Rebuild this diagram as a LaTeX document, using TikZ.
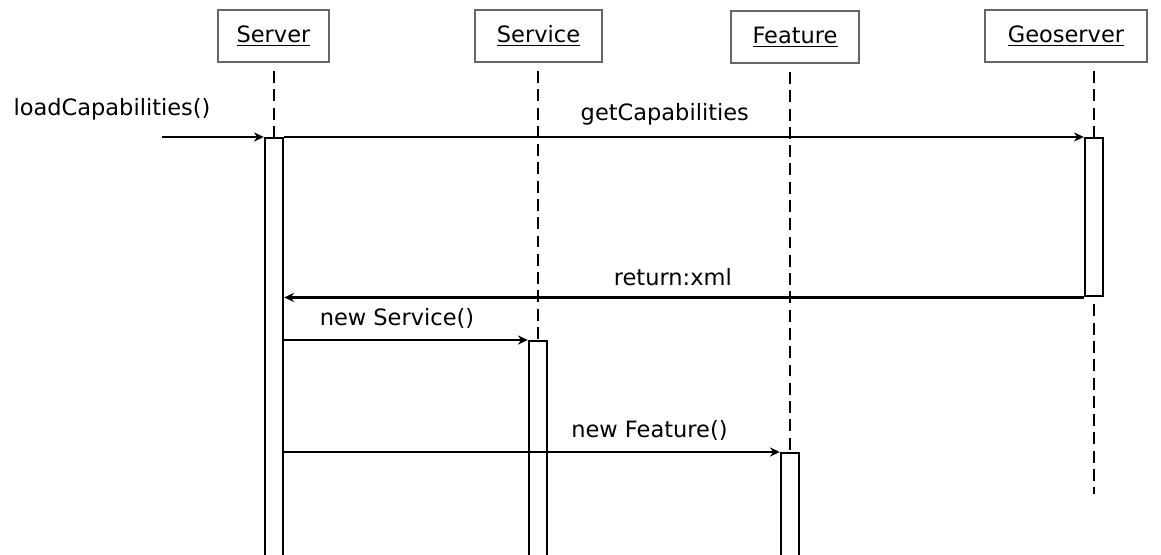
\documentclass[tikz,border=0pt]{standalone}
\usepackage{fontspec}
\setmainfont{DejaVu Sans}
\usetikzlibrary{positioning,arrows.meta}
\tikzset{%
  object/.style={
    draw=black!60,
    line width=0.8pt,
    minimum height=1.3cm,
    inner sep=0pt
  },
  lifeline/.style={
    line width=2pt,
    dash pattern=on 8.5pt off 4.5pt
  },
  activation/.style={
    draw,
    line width=1.7pt,
    fill=white,
    minimum width=0.45cm,
    inner sep=0pt,
    anchor=north
  },
  message/.style={
    -{Stealth[length=7pt,width=6.5pt]},
    line width=1.7pt
  },
  msg/.style={above=4pt},
}

\begin{document}
\begin{tikzpicture}[x=0.025cm,y=-0.025cm,font=\fontsize{16}{19}\selectfont]
      \useasboundingbox (0,0) rectangle (1161,554);
      \clip (0,0) rectangle (1161,554);

      % objects
      \node[object,minimum width=2.775cm] (srv) at (273.5,36) {\underline{Server}};
      \node[object,minimum width=3.175cm] (svc) at (538.5,36) {\underline{Service}};
      \node[object,minimum width=3.2cm] (feat) at (795,37) {\underline{Feature}};
      \node[object,minimum width=4.05cm] (geo) at (1066,36) {\underline{Geoserver}};

      % activations
      \node[activation,minimum height=10.75cm] (srvbar) at (274,137) {};
      \node[activation,minimum height=3.95cm] (geobar) at (1094,137) {};
      \node[activation,minimum height=5.5cm] (svcbar) at (538,340) {};
      \node[activation,minimum height=2.75cm] (featbar) at (790,452) {};

      % lifelines
      \draw[lifeline] ([yshift=-6]srv.south -| srvbar.north) -- (srvbar.north);
      \draw[lifeline] ([yshift=-6]svc.south -| svcbar.north) -- (svcbar.north);
      \draw[lifeline] ([yshift=-6]feat.south -| featbar.north) -- (featbar.north);
      \draw[lifeline] ([yshift=-6]geo.south -| geobar.north) -- (geobar.north);
      \coordinate (geoend) at (1094,494);
      \draw[lifeline] ([yshift=-5]geobar.south) -- (geoend);

      % messages
      \coordinate (caller) at (162,137);
      \draw[message] (caller) -- (srvbar.north west);
      \node[anchor=south] (load) at (112,125) {loadCapabilities()};
      \draw[message] (srvbar.north east) -- node[msg,pos=0.476] (getcap) {getCapabilities} (geobar.north west);
      \draw[message] (geobar.south west) -- node[msg,pos=0.514] (ret) {return:xml} (srvbar.east |- geobar.south);
      \draw[message] (srvbar.east |- svcbar.north) -- node[msg,pos=0.463] (newsvc) {new Service()} (svcbar.north west);
      \draw[message] (srvbar.east |- featbar.north) -- node[msg,pos=0.737] (newfeat) {new Feature()} (featbar.north west);
\end{tikzpicture}
\end{document}
